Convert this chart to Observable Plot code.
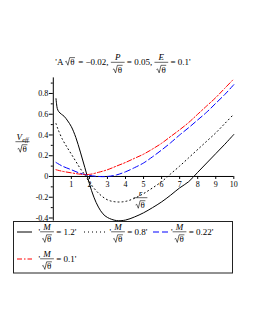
<!DOCTYPE html>
<html><head><meta charset="utf-8">
<script src="https://cdn.jsdelivr.net/npm/d3@7"></script>
<script src="https://cdn.jsdelivr.net/npm/@observablehq/plot@0.6"></script>
<style>html,body{margin:0;padding:0;background:#fff;} #chart{width:255px;height:330px;}</style>
</head><body><div id="chart"></div>
<script>
// ---- data ----
const rM12 = [0.15, 0.18, 0.22, 0.3, 0.45, 0.6, 0.8, 1.0, 1.25, 1.5, 1.75, 2.0, 2.25, 2.5, 2.75, 3.0, 3.5, 4.0, 4.5, 5.0, 5.5, 6.0, 6.5, 7.0, 7.5, 8.0, 8.5, 9.0, 9.5, 10];
const vM12 = [0.75, 0.70, 0.655, 0.625, 0.6, 0.58, 0.535, 0.48, 0.375, 0.235, 0.085, -0.07, -0.2, -0.295, -0.36, -0.395, -0.425, -0.42, -0.39, -0.35, -0.3, -0.245, -0.18, -0.11, -0.05, 0.04, 0.13, 0.22, 0.31, 0.405];
const rM08 = [0.15, 0.25, 0.5, 0.75, 1.0, 1.25, 1.5, 1.75, 2.0, 2.5, 3.0, 3.5, 4.0, 4.5, 5.0, 5.5, 6.0, 6.5, 7.0, 7.5, 8.0, 8.5, 9.0, 9.5, 10];
const vM08 = [0.51, 0.46, 0.36, 0.285, 0.215, 0.145, 0.075, 0.015, -0.055, -0.16, -0.225, -0.245, -0.24, -0.21, -0.165, -0.11, -0.05, 0.025, 0.1, 0.18, 0.26, 0.34, 0.42, 0.51, 0.6];
const rM022 = [0.15, 0.5, 1.0, 1.5, 2.0, 2.5, 3.0, 3.5, 4.0, 4.5, 5.0, 5.5, 6.0, 6.5, 7.0, 7.5, 8.0, 8.5, 9.0, 9.5, 10];
const vM022 = [0.135, 0.1, 0.065, 0.03, 0.01, 0.0, 0.0, 0.015, 0.045, 0.085, 0.13, 0.19, 0.255, 0.325, 0.4, 0.47, 0.545, 0.62, 0.705, 0.79, 0.885];
const rM01 = [0.15, 0.5, 1.0, 1.5, 2.0, 2.5, 3.0, 3.5, 4.0, 4.5, 5.0, 5.5, 6.0, 6.5, 7.0, 7.5, 8.0, 8.5, 9.0, 9.5, 10];
const vM01 = [0.065, 0.05, 0.035, 0.022, 0.02, 0.04, 0.065, 0.1, 0.135, 0.175, 0.215, 0.265, 0.32, 0.385, 0.45, 0.52, 0.6, 0.68, 0.76, 0.85, 0.94];
const seriesLabels = ["1.2", "0.8", "0.22", "0.1"];
const xTicks = [1, 2, 3, 4, 5, 6, 7, 8, 9, 10];
const yTicks = [-0.4, -0.2, 0, 0.2, 0.4, 0.6, 0.8];
const yTickLabels = ["-0.4", "-0.2", "0", "0.2", "0.4", "0.6", "0.8"];
const yMinor = [-0.3, -0.1, 0.1, 0.3, 0.5, 0.7, 0.9];
const titleVals = ["−0.02", "0.05", "0.1"];

// ---- styles ----
const FF = "Liberation Serif";
const styles = [
  {color: "#000", dash: null},
  {color: "#000", dash: "1,3"},
  {color: "#0000ff", dash: "6,3"},
  {color: "#ff0000", dash: "5,2,1.5,2"}
];
const series = [[rM12, vM12], [rM08, vM08], [rM022, vM022], [rM01, vM01]].map(([r, v], k) => ({
  label: seriesLabels[k], data: r.map((x, i) => ({r: x, v: v[i]})), ...styles[k]
}));

const yDom = [-0.43, 0.95];
const pxPerY = (220.6 - 77.4) / (yDom[1] - yDom[0]);
const pxPerX = (233.3 - 52.8) / 10;

const svg = Plot.plot({
  width: 255, height: 330,
  marginLeft: 52.8, marginRight: 21.7, marginTop: 77.4, marginBottom: 109.4,
  style: {fontFamily: FF, fontSize: "8px", background: "white", overflow: "visible"},
  x: {domain: [0, 10], axis: null},
  y: {domain: yDom, axis: null},
  marks: [
    Plot.ruleY([0], {x1: 0, x2: 10, stroke: "#000", strokeWidth: 1}),
    Plot.ruleX([0], {y1: yDom[0], y2: yDom[1], stroke: "#000", strokeWidth: 1}),
    Plot.ruleX(xTicks, {x: d => d, y1: 0, y2: -3 / pxPerY, stroke: "#000"}),
    Plot.ruleY(yTicks, {y: d => d, x1: 0, x2: -4 / pxPerX, stroke: "#000"}),
    Plot.ruleY(yMinor, {y: d => d, x1: 0, x2: -2 / pxPerX, stroke: "#000"}),
    Plot.text(xTicks, {x: d => d, y: 0, dy: 7.5, text: d => String(d), fontSize: 8, fill: "#000"}),
    Plot.text(yTicks, {x: 0, y: d => d, dx: -5, textAnchor: "end", text: (d, i) => yTickLabels[i], fontSize: 8, fill: "#000"}),
    ...series.map(s => Plot.line(s.data, {x: "r", y: "v", stroke: s.color, strokeWidth: 1, strokeDasharray: s.dash, curve: "catmull-rom"}))
  ]
});
document.getElementById("chart").appendChild(svg);

// ---- math-style text helpers ----
const root = d3.select(svg).append("g").attr("fill", "#000").attr("text-anchor", "start");
function txt(g, x, y, s, fs, italic) {
  const t = g.append("text").attr("x", x).attr("y", y).attr("font-size", fs).attr("font-family", FF)
    .attr("text-anchor", "start").style("white-space", "pre").attr("xml:space", "preserve").text(s);
  if (italic) t.attr("font-style", "italic");
  return t.node().getComputedTextLength();
}
function sqrtTheta(g, x, y, fs) {
  const rw = fs * 0.55;
  const w = txt(g, x + rw, y, "θ", fs, false);
  const top = y - fs * 0.82;
  g.append("path").attr("d", `M${x},${y - fs * 0.35} L${x + fs * 0.12},${y - fs * 0.42} L${x + fs * 0.3},${y + fs * 0.02} L${x + fs * 0.5},${top} L${x + rw + w + 0.5},${top}`)
    .attr("fill", "none").attr("stroke", "#000").attr("stroke-width", 0.6);
  return rw + w + 0.5;
}
function frac(g, x, B, fs, num, pad) {
  pad = pad == null ? 2 : pad;
  const s = fs / 9;
  const dg = g.append("g");
  const dw = sqrtTheta(dg, 0, 0, fs);
  const ng = g.append("g");
  const nw = typeof num === "function" ? num(ng, fs) : txt(ng, 0, 0, num, fs, true);
  const W = Math.max(dw, nw) + 2 * pad;
  dg.attr("transform", `translate(${x + (W - dw) / 2},${B + 7.7 * s})`);
  ng.attr("transform", `translate(${x + (W - nw) / 2},${B - 4.7 * s})`);
  g.append("line").attr("x1", x).attr("x2", x + W).attr("y1", B - 2.7 * s).attr("y2", B - 2.7 * s)
    .attr("stroke", "#000").attr("stroke-width", 0.6);
  return W;
}
function row(g, items, x, B, fs) {
  let cx = x;
  for (const it of items) {
    if (typeof it === "string") cx += txt(g, cx, B, it, fs, false);
    else if (it.sqrt) cx += sqrtTheta(g, cx, B, fs) + 1;
    else if (it.frac) cx += frac(g, cx, B, fs, it.frac, it.pad);
  }
  return cx - x;
}
function centered(items, cx, B, fs) {
  const g = root.append("g");
  const w = row(g, items, 0, B, fs);
  g.attr("transform", `translate(${cx - w / 2},0)`);
}

// title
centered(["'A ", {sqrt: 1}, " = " + titleVals[0] + ", ", {frac: "P"}, " = " + titleVals[1] + ", ", {frac: "E"}, " = " + titleVals[2] + "'"], 123, 65, 9);
// y label
centered([{frac: (g, fs) => {
  const a = txt(g, 0, 0, "V", fs, true);
  const b = txt(g, a + 0.3, 1.8, "eff", fs * 0.7, true);
  return a + 0.3 + b;
}, pad: 1}], 22.5, 144.4, 9);
// x label
centered([{frac: "r", pad: 2}], 140.5, 200.4, 9);

// legend
root.append("rect").attr("x", 13.5).attr("y", 221.5).attr("width", 219).attr("height", 51.5)
  .attr("fill", "none").attr("stroke", "#222").attr("stroke-width", 1);
const legendPos = [
  {lx: 17, lw: 15, tx: 38.5, B: 234.5},
  {lx: 84, lw: 23, tx: 109.5, B: 234.5},
  {lx: 153, lw: 15, tx: 171, B: 234.5},
  {lx: 17, lw: 15, tx: 38.5, B: 261.5}
];
series.forEach((s, k) => {
  const p = legendPos[k];
  const ly = p.B - 2.5;
  root.append("line").attr("x1", p.lx).attr("x2", p.lx + p.lw).attr("y1", ly).attr("y2", ly)
    .attr("stroke", s.color).attr("stroke-width", 1).attr("stroke-dasharray", s.dash);
  row(root.append("g"), ["'", {frac: "M"}, " = " + s.label + "'"], p.tx, p.B, 9);
});
</script></body></html>
